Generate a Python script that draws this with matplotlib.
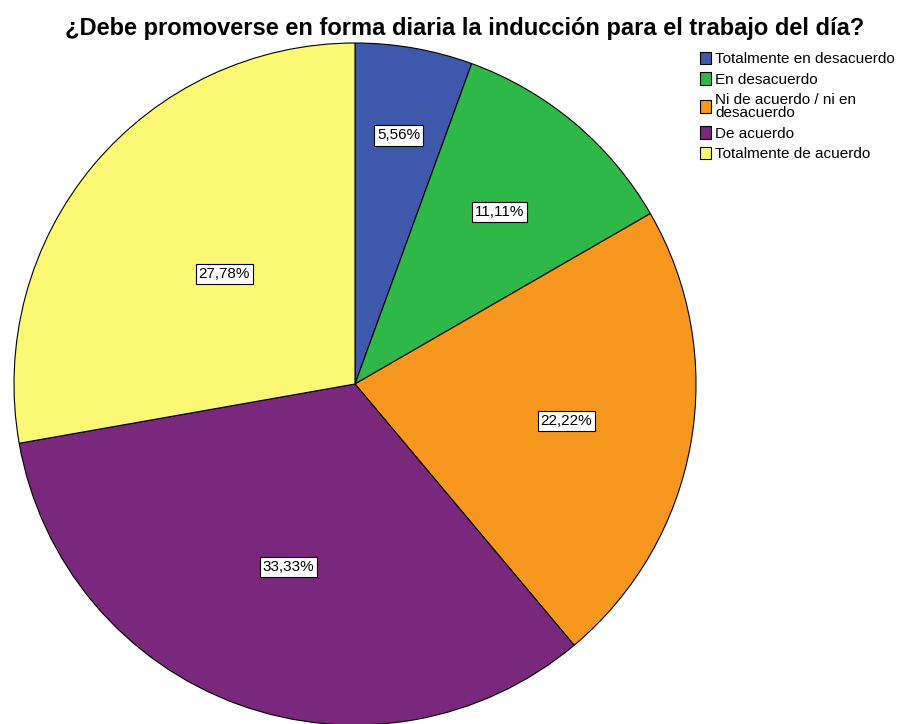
import numpy as np
import matplotlib.pyplot as plt
from matplotlib.patches import Patch

plt.rcParams['font.family'] = ['Liberation Sans', 'DejaVu Sans']

categories = ["Totalmente en desacuerdo", "En desacuerdo",
              "Ni de acuerdo / ni en\ndesacuerdo", "De acuerdo",
              "Totalmente de acuerdo"]
values = [5.56, 11.11, 22.22, 33.33, 27.78]
labels = ["5,56%", "11,11%", "22,22%", "33,33%", "27,78%"]
colors = ["#3E58AC", "#2EB848", "#F8971D", "#7A287B", "#FBF873"]
label_r = [0.74, 0.66, 0.63, 0.57, 0.50]  # SPSS puts labels at uneven radii

W, H = 907, 724
fig = plt.figure(figsize=(W / 100, H / 100), dpi=100)
ax = fig.add_axes([0, 0, 1, 1])

cx, cy, R = 355, H - 384, 341
wedges, _ = ax.pie(values, colors=colors, startangle=90, counterclock=False,
                   center=(cx, cy), radius=R, frame=True,
                   wedgeprops=dict(edgecolor='black', linewidth=0.8))
ax.set_xlim(0, W)
ax.set_ylim(0, H)
ax.set_aspect('equal')
ax.axis('off')

start = 90
for v, lab, r in zip(values, labels, label_r):
    mid = np.radians(start - v * 3.6 / 2)
    start -= v * 3.6
    ax.text(cx + r * R * np.cos(mid), cy + r * R * np.sin(mid), lab,
            ha='center', va='center', fontsize=11,
            bbox=dict(boxstyle='square,pad=0.2', fc='white', ec='black', lw=0.8))

fig.text(465 / W, 1 - 28 / H,
         "¿Debe promoverse en forma diaria la inducción para el trabajo del día?",
         ha='center', va='center', fontsize=17, fontweight='bold')

handles = [Patch(fc=c, ec='black', lw=0.8) for c in colors]
leg = fig.legend(handles, categories, loc='upper left',
                 bbox_to_anchor=(692 / W, 1 - 44 / H), frameon=False,
                 fontsize=11, handlelength=0.75, handleheight=0.9,
                 handletextpad=0.25, labelspacing=0.4, borderpad=0)
for t in leg.get_texts():
    t.set_linespacing(0.9)

fig.savefig("out.png", dpi=100)
